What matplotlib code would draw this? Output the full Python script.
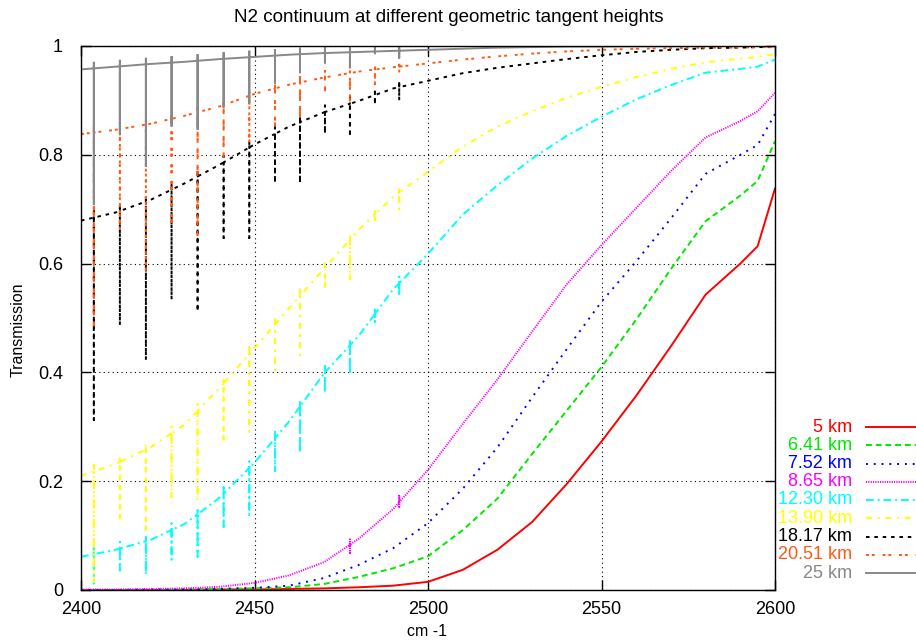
import numpy as np
import matplotlib
matplotlib.use("Agg")
import matplotlib.pyplot as plt
from matplotlib.lines import Line2D

plt.rcParams['font.family'] = ['Liberation Sans', 'DejaVu Sans']

# ---------------- data ----------------
wavenumber = [2400, 2410, 2420, 2430, 2440, 2450, 2460, 2470, 2480, 2490, 2500,
              2510, 2520, 2530, 2540, 2550, 2560, 2570, 2580, 2590, 2595, 2600]

labels = ["5 km", "6.41 km", "7.52 km", "8.65 km", "12.30 km", "13.90 km",
          "18.17 km", "20.51 km", "25 km"]

t_5 = [0, 0, 0, 0, 0.001, 0.001, 0.002, 0.003, 0.005, 0.008, 0.015,
       0.037, 0.074, 0.125, 0.195, 0.273, 0.357, 0.448, 0.543, 0.600, 0.632, 0.738]
t_641 = [0, 0, 0, 0.001, 0.002, 0.003, 0.005, 0.011, 0.024, 0.040, 0.062,
         0.110, 0.168, 0.250, 0.330, 0.410, 0.497, 0.590, 0.678, 0.725, 0.752, 0.825]
t_752 = [0, 0, 0.001, 0.001, 0.002, 0.004, 0.008, 0.022, 0.046, 0.077, 0.123,
         0.186, 0.262, 0.354, 0.443, 0.530, 0.604, 0.683, 0.765, 0.800, 0.818, 0.875]
t_865 = [0.001, 0.001, 0.002, 0.003, 0.006, 0.013, 0.027, 0.051, 0.094, 0.149, 0.221,
         0.305, 0.387, 0.475, 0.562, 0.634, 0.702, 0.770, 0.832, 0.862, 0.880, 0.914]
t_1230 = [0.061, 0.074, 0.092, 0.122, 0.170, 0.234, 0.310, 0.398, 0.467, 0.553, 0.618,
          0.690, 0.744, 0.793, 0.835, 0.870, 0.902, 0.928, 0.951, 0.958, 0.962, 0.975]
t_1390 = [0.210, 0.232, 0.262, 0.305, 0.372, 0.445, 0.518, 0.590, 0.662, 0.723, 0.769,
          0.815, 0.852, 0.880, 0.905, 0.925, 0.943, 0.958, 0.970, 0.977, 0.980, 0.985]
t_1817 = [0.679, 0.694, 0.717, 0.748, 0.782, 0.819, 0.852, 0.878, 0.899, 0.922, 0.936,
          0.950, 0.960, 0.968, 0.976, 0.983, 0.989, 0.993, 0.996, 0.997, 0.998, 0.998]
t_2051 = [0.838, 0.846, 0.857, 0.872, 0.889, 0.912, 0.929, 0.942, 0.953, 0.961, 0.968,
          0.975, 0.981, 0.986, 0.990, 0.993, 0.995, 0.996, 0.997, 0.997, 0.998, 0.998]
t_25 = [0.957, 0.962, 0.967, 0.971, 0.976, 0.980, 0.984, 0.987, 0.989, 0.991, 0.993,
        0.995, 0.997, 0.998, 0.999, 0.999, 0.9995, 0.9995, 1.0, 1.0, 1.0, 1.0]

# absorption line positions (cm-1) and the depth each curve reaches there
line_pos = [2403.7, 2411.2, 2418.7, 2426.1, 2433.6, 2441.1, 2448.5,
            2455.9, 2463.1, 2470.3, 2477.5, 2484.7, 2491.7]
dip_865 = [None, None, None, None, None, None, None,
           None, None, None, 0.068, None, 0.153]
dip_1230 = [0.012, 0.036, 0.028, 0.056, 0.061, 0.116, 0.138,
            0.219, 0.252, 0.362, 0.397, 0.493, 0.540]
dip_1390 = [0.015, 0.126, 0.104, 0.171, 0.165, 0.270, 0.291,
            0.404, 0.432, 0.551, 0.571, 0.680, 0.700]
dip_1817 = [0.3125, 0.487, 0.423, 0.534, 0.512, 0.647, 0.647,
            0.748, 0.748, 0.839, 0.833, 0.892, 0.900]
dip_2051 = [0.484, 0.662, 0.585, 0.668, 0.650, 0.794, 0.820,
            0.846, 0.864, 0.916, 0.900, 0.930, 0.950]
dip_25 = [0.708, 0.836, 0.778, 0.852, 0.846, 0.888, 0.895,
          0.931, 0.950, 0.968, 0.962, 0.985, 0.977]
no_dip = [None] * len(line_pos)

series = [t_5, t_641, t_752, t_865, t_1230, t_1390, t_1817, t_2051, t_25]
dips = [no_dip, no_dip, no_dip, dip_865, dip_1230, dip_1390, dip_1817, dip_2051, dip_25]

# ---------------- style ----------------
colors = ["#ff0000", "#00e800", "#0000ff", "#ff00ff", "#00ffff", "#ffff00",
          "#000000", "#ff5a14", "#888888"]
styles = ["-", (0, (3, 2)), (0, (1, 3)), (0, (0.6, 0.6)), (0, (4, 2, 1, 2)),
          (0, (3, 3, 1, 3)), (0, (1.8, 2.5)), (0, (1.5, 1.5, 1.5, 4)), "-"]
LW = 1.4
OVERSHOOT = 0.012


def with_dips(x, y, dip):
    x0 = np.asarray(x, float)
    y0 = np.asarray(y, float)
    xs, ys = x0.copy(), y0.copy()
    for s, b in zip(line_pos, dip):
        if b is None:
            continue
        v = np.interp(s, x0, y0)
        i = np.searchsorted(xs, s)
        xs = np.insert(xs, i, [s, s, s, s])
        ys = np.insert(ys, i, [v, v + OVERSHOOT, b, v])
    return xs, ys


W, H = 916, 643
fig = plt.figure(figsize=(W / 100, H / 100), dpi=100)
ax = fig.add_axes([81 / W, (H - 590) / H, (775 - 81) / W, (590 - 46) / H])

for y, d, c, ls in zip(series, dips, colors, styles):
    xs, ys = with_dips(wavenumber, y, d)
    ax.plot(xs, ys, color=c, linestyle=ls, lw=LW, solid_joinstyle='miter')

ax.set_xlim(2400, 2600)
ax.set_ylim(0, 1)
ax.set_xticks([2400, 2450, 2500, 2550, 2600])
ax.set_yticks([0, 0.2, 0.4, 0.6, 0.8, 1.0])
ax.set_yticklabels(["0", "0.2", "0.4", "0.6", "0.8", "1"])
ax.tick_params(direction='in', length=7, width=1, top=True, right=True,
               labelsize=13)
ax.tick_params(axis='y', pad=13)
ax.tick_params(axis='x', pad=8)
ax.grid(True, color='black', linestyle=(0, (1, 3)), lw=0.8)
for sp in ax.spines.values():
    sp.set_linewidth(1.0)

fig.text(449 / W, 1 - 18 / H, "N2 continuum at different geometric tangent heights",
         fontsize=13.5, ha='center', va='center')
fig.text(18 / W, 1 - 330 / H, "Transmission", fontsize=11.5, rotation=90,
         ha='center', va='center')
fig.text(427 / W, 1 - 631 / H, "cm -1", fontsize=11.5, ha='center', va='center')

# legend (outside, right bottom)
for i, (lab, c, ls) in enumerate(zip(labels, colors, styles)):
    ypx = 427 + 18.25 * i
    fig.text(852 / W, 1 - ypx / H, lab, color=c, ha='right', va='center', fontsize=13)
    fig.add_artist(Line2D([866 / W, 916 / W], [1 - ypx / H, 1 - ypx / H],
                          transform=fig.transFigure, color=c, linestyle=ls, lw=LW))

fig.savefig("out.png", dpi=100)
